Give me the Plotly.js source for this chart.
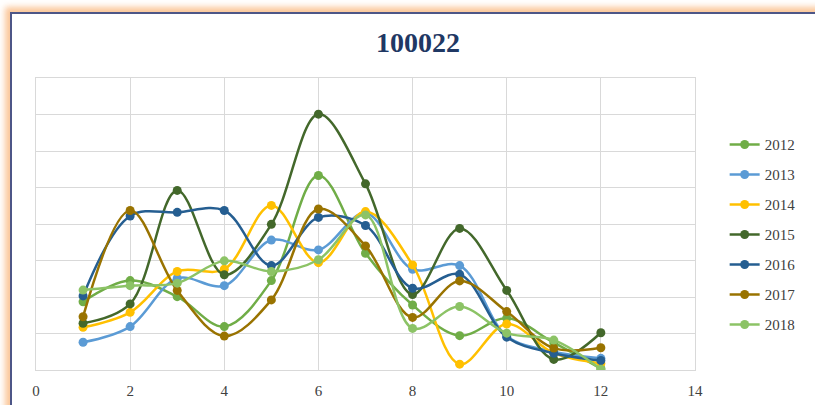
<!DOCTYPE html>
<html>
<head>
<meta charset="utf-8">
<script src="https://cdn.plot.ly/plotly-3.0.1.min.js"></script>
<style>
  html, body { margin: 0; padding: 0; background: #ffffff; overflow: hidden; }
  #chart { position: absolute; left: 0; top: 0; width: 815px; height: 405px; }
  #frame {
    position: absolute; left: 10px; top: 12px; width: 900px; height: 500px;
    border-left: 2px solid #4d5687; border-top: 2px solid #4d5687;
    box-shadow: -3px -3px 6px 2px rgba(250, 180, 120, 0.75);
    pointer-events: none;
  }
</style>
</head>
<body>
<div id="chart"></div>
<div id="frame"></div>
<script>
// Monthly values per year, month on the x axis
const months = [1, 2, 3, 4, 5, 6, 7, 8, 9, 10, 11, 12];
const years = ["2012", "2013", "2014", "2015", "2016", "2017", "2018"];

const v2012 = [18.7, 24.5, 20.1, 11.9, 24.5, 53.3, 32.0, 17.8, 9.4, 14.2, 7.5, 0.4];
const v2013 = [7.6, 11.9, 25.1, 23.1, 35.6, 32.9, 43.0, 27.6, 28.6, 9.3, 5.0, 3.2];
const v2014 = [11.7, 15.8, 27.0, 27.6, 45.1, 29.4, 43.4, 28.8, 1.6, 12.6, 4.6, 1.8];
const v2015 = [12.8, 18.1, 49.2, 26.1, 39.9, 70.1, 51.0, 20.7, 38.8, 21.8, 2.9, 10.2];
const v2016 = [20.3, 42.2, 43.2, 43.7, 28.6, 41.8, 39.6, 22.4, 26.2, 9.0, 4.6, 2.6];
const v2017 = [14.6, 43.7, 21.8, 9.3, 19.2, 44.1, 34.0, 14.4, 24.4, 16.0, 6.0, 6.1];
const v2018 = [21.9, 23.1, 23.8, 29.9, 27.0, 30.2, 42.5, 11.4, 17.4, 10.1, 8.2, 0.2];

const series = [v2012, v2013, v2014, v2015, v2016, v2017, v2018];
const colors = ["#70ad47", "#5b9bd5", "#ffc000", "#43682b", "#255e91", "#997300", "#8cc366"];

const xTicks = [0, 2, 4, 6, 8, 10, 12, 14];

const traces = series.map((vals, i) => ({
  type: "scatter",
  mode: "lines+markers",
  name: years[i],
  legendgroup: years[i],
  x: months,
  y: vals,
  line: { color: colors[i], width: 2.5, shape: "spline", smoothing: 1 },
  marker: { color: colors[i], size: 9 }
}));

const layout = {
  width: 815,
  height: 405,
  paper_bgcolor: "#ffffff",
  plot_bgcolor: "#ffffff",
  margin: { l: 36, r: 120, t: 78, b: 35 },
  title: {
    text: "<b>100022</b>",
    font: { family: "Liberation Serif, DejaVu Serif, serif", size: 28, color: "#1f3864" },
    xref: "container", x: 0.513, xanchor: "center",
    yref: "container", y: 0.897, yanchor: "middle"
  },
  xaxis: {
    range: [0, 14],
    tickvals: xTicks,
    ticktext: xTicks.map(String),
    showgrid: true,
    gridcolor: "#d9d9d9",
    gridwidth: 1,
    showline: true,
    linecolor: "#d9d9d9",
    linewidth: 1,
    mirror: true,
    zeroline: false,
    ticks: "",
    ticklabelstandoff: 7,
    tickfont: { family: "Liberation Serif, DejaVu Serif, serif", size: 15, color: "#404040" }
  },
  yaxis: {
    range: [0, 80],
    dtick: 10,
    showgrid: true,
    gridcolor: "#d9d9d9",
    gridwidth: 1,
    showline: true,
    linecolor: "#d9d9d9",
    linewidth: 1,
    mirror: true,
    zeroline: false,
    showticklabels: false,
    ticks: ""
  },
  showlegend: true,
  legend: {
    x: 1.045, xanchor: "left",
    y: 0.828, yanchor: "top",
    traceorder: "grouped",
    tracegroupgap: 7.5,
    font: { family: "Liberation Serif, DejaVu Serif, serif", size: 15, color: "#404040" },
    bgcolor: "rgba(0,0,0,0)"
  }
};

Plotly.newPlot("chart", traces, layout, { staticPlot: true, displayModeBar: false });
</script>
</body>
</html>
